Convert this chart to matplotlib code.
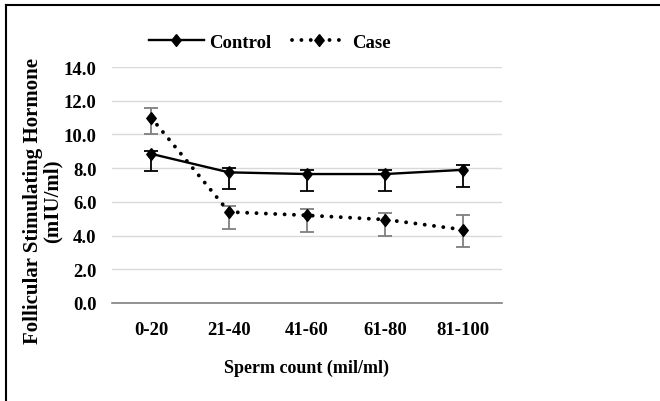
import matplotlib.pyplot as plt
from matplotlib.lines import Line2D
import numpy as np

plt.rcParams["font.family"] = ["Liberation Serif", "DejaVu Serif"]
plt.rcParams["font.weight"] = "bold"

# 数据
categories = ["0-20", "21-40", "41-60", "61-80", "81-100"]
control = [8.85, 7.75, 7.65, 7.65, 7.9]
control_err_low = [1.0, 1.0, 1.0, 1.0, 1.0]
control_err_high = [0.15, 0.25, 0.25, 0.25, 0.3]
case = [11.0, 5.4, 5.2, 4.95, 4.35]
case_err_low = [1.0, 1.0, 1.0, 1.0, 1.0]
case_err_high = [0.55, 0.35, 0.35, 0.4, 0.9]
yticks = [0, 2, 4, 6, 8, 10, 12, 14]

# 略高的菱形标记
diamond = [(0, 1), (0.8, 0), (0, -1), (-0.8, 0), (0, 1)]

fig = plt.figure(figsize=(6.6, 4.02), dpi=100)
ax = fig.add_axes([112 / 660, 1 - 304 / 402, 390 / 660, 236 / 402])

x = np.arange(len(categories))

# 误差线
ax.errorbar(x, control, yerr=[control_err_low, control_err_high], fmt="none",
            ecolor="black", elinewidth=1.3, capsize=5, capthick=1.3, zorder=2)
ax.errorbar(x, case, yerr=[case_err_low, case_err_high], fmt="none",
            ecolor="#7f7f7f", elinewidth=1.3, capsize=5, capthick=1.3, zorder=2)

# 折线
ax.plot(x, control, color="black", lw=1.7, marker=diamond, markersize=8.5,
        label="Control", zorder=3)
ax.plot(x, case, color="black", lw=2.8, linestyle=(0, (0.01, 2.4)),
        dash_capstyle="round", marker=diamond, markersize=8.5, label="Case",
        zorder=3)

ax.set_xlim(-0.5, len(categories) - 0.5)
ax.set_ylim(0, 14)
ax.set_yticks(yticks)
ax.set_yticklabels([f"{v:.1f}" for v in yticks])
ax.set_xticks(x)
ax.set_xticklabels(categories)
ax.tick_params(axis="both", length=0, labelsize=13.5)
ax.tick_params(axis="y", pad=11)
ax.tick_params(axis="x", pad=13)

ax.grid(axis="y", color="#d9d9d9", lw=1)
ax.set_axisbelow(True)
for side in ["top", "right", "left"]:
    ax.spines[side].set_visible(False)
ax.spines["bottom"].set_color("#808080")
ax.spines["bottom"].set_linewidth(1.2)

# y轴标题（位置手动对齐）
fig.text(43 / 660, 1 - 201 / 402, "Follicular Stimulating Hormone\n(mIU/ml)",
         fontsize=15, fontweight="bold", rotation=90, linespacing=0.95,
         ha="center", va="center", multialignment="center")
ax.set_xlabel("Sperm count (mil/ml)", fontsize=13, fontweight="bold",
              labelpad=15)

fig.legend(loc="center", bbox_to_anchor=(270 / 660, 1 - 43 / 402), ncol=2,
           frameon=False, fontsize=13.5, handlelength=2.9, handletextpad=0.3,
           columnspacing=1.1)

# 外框
fig.add_artist(Line2D([6 / 660, 1], [1 - 6 / 402, 1 - 6 / 402],
                      transform=fig.transFigure, color="black", lw=1.5))
fig.add_artist(Line2D([6 / 660, 6 / 660], [0, 1 - 6 / 402],
                      transform=fig.transFigure, color="black", lw=1.5))

fig.savefig("out.png", dpi=100)
